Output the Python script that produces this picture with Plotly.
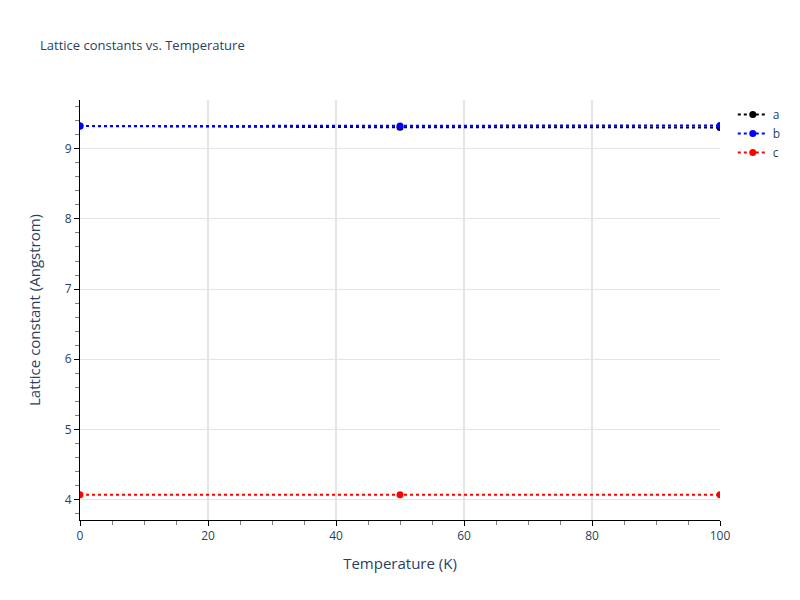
import plotly.graph_objects as go

temperature = [0, 50, 100]
lattice_a = [9.322, 9.305, 9.303]
lattice_b = [9.322, 9.322, 9.332]
lattice_c = [4.072, 4.072, 4.072]

series = [
    ("a", lattice_a, "black"),
    ("b", lattice_b, "blue"),
    ("c", lattice_c, "red"),
]

fig = go.Figure()
for name, values, color in series:
    fig.add_trace(
        go.Scatter(
            x=temperature,
            y=values,
            name=name,
            mode="lines+markers",
            line=dict(color=color, dash="dot", width=2),
            marker=dict(color=color, size=7),
        )
    )

axis_style = dict(
    showline=True,
    linecolor="black",
    linewidth=1,
    ticks="outside",
    tickcolor="black",
    showgrid=True,
    gridcolor="#e5e5e5",
    zeroline=False,
    title_font=dict(size=15),
    minor=dict(ticks="outside", tickcolor="gray", ticklen=4, showgrid=False),
)

fig.update_layout(
    template="plotly_white",
    width=800,
    height=600,
    title=dict(text="Lattice constants vs. Temperature", font=dict(size=13)),
    xaxis=dict(title="Temperature (K)", range=[0, 100], gridwidth=2, **axis_style),
    yaxis=dict(title=dict(text="Lattice constant (Angstrom)", standoff=20), **axis_style),
)

# drop the page margin so the 800x600 figure sits at the window corner
fig.write_html(
    "out.html",
    config={"displayModeBar": False},
    post_script="document.body.style.margin='0';",
)
